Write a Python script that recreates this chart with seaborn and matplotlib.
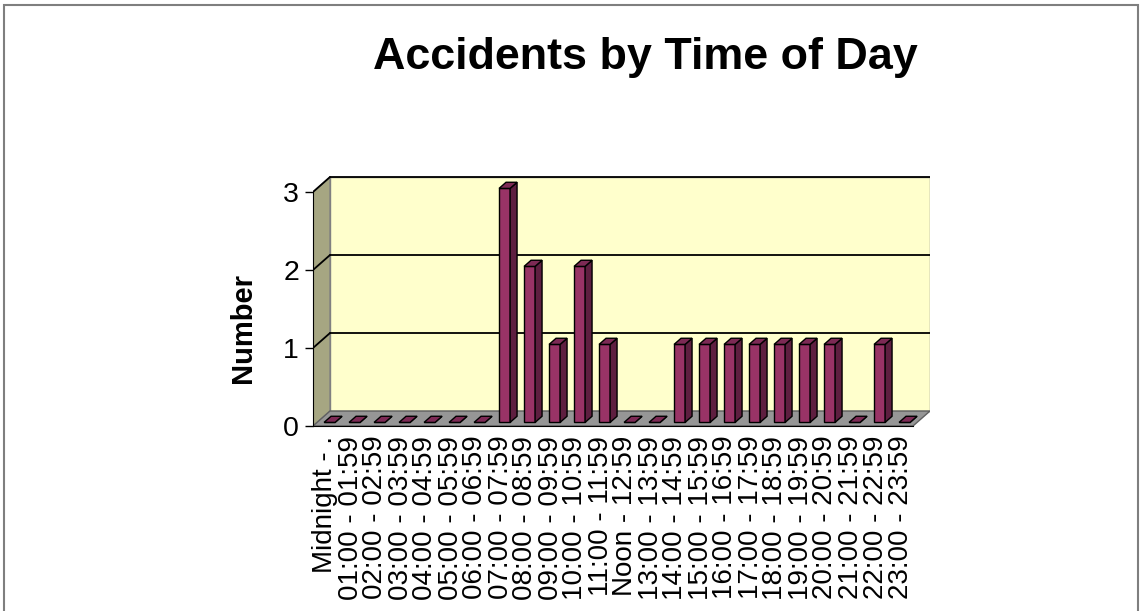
import matplotlib
matplotlib.use("Agg")
import matplotlib.pyplot as plt
from matplotlib.patches import Polygon, Rectangle
import seaborn as sns

hours = ["Midnight - .", "01:00 - 01:59", "02:00 - 02:59", "03:00 - 03:59",
         "04:00 - 04:59", "05:00 - 05:59", "06:00 - 06:59", "07:00 - 07:59",
         "08:00 - 08:59", "09:00 - 09:59", "10:00 - 10:59", "11:00 - 11:59",
         "Noon - 12:59", "13:00 - 13:59", "14:00 - 14:59", "15:00 - 15:59",
         "16:00 - 16:59", "17:00 - 17:59", "18:00 - 18:59", "19:00 - 19:59",
         "20:00 - 20:59", "21:00 - 21:59", "22:00 - 22:59", "23:00 - 23:59"]
counts = [0, 0, 0, 0, 0, 0, 0, 3, 2, 1, 2, 1, 0, 0, 1, 1, 1, 1, 1, 1, 1, 0, 1, 0]
yticks = [0, 1, 2, 3]

sns.set_style("white")
plt.rcParams["font.family"] = ["Liberation Sans", "DejaVu Sans"]
plt.rcParams["text.color"] = "black"
plt.rcParams["xtick.color"] = "black"
plt.rcParams["ytick.color"] = "black"
plt.rcParams["xtick.labelcolor"] = "black"
plt.rcParams["ytick.labelcolor"] = "black"

n = len(hours)
ymax = yticks[-1]
dx, dy = 0.68, 0.192      # depth of the 3d box, data units
bd = 0.24                 # where the bars sit in depth
bw = 0.41                 # bar depth

fig = plt.figure(figsize=(11.4, 6.11), dpi=100)
fig.patches.append(Rectangle((4 / 1140, -0.01), 1134 / 1140, 1 - 5 / 611 + 0.01,
                             transform=fig.transFigure, fill=False,
                             edgecolor="#7f7f7f", linewidth=1.5))
ax = fig.add_axes([313 / 1140, 1 - 426 / 611, (930 - 313) / 1140, (426 - 176.4) / 611])
ax.set_facecolor("none")

sns.barplot(x=hours, y=counts, color="#993366", width=0.44, saturation=1,
            edgecolor="black", linewidth=1, ax=ax, zorder=5)

# walls and floor
ax.add_patch(Polygon([(-0.5 + dx, dy), (n - 0.5 + dx, dy), (n - 0.5 + dx, ymax + dy),
                      (-0.5 + dx, ymax + dy)], closed=True, facecolor="#FFFFCC",
                     edgecolor="#808080", linewidth=1, zorder=1))
ax.add_patch(Polygon([(-0.5, 0), (-0.5 + dx, dy), (-0.5 + dx, ymax + dy), (-0.5, ymax)],
                     closed=True, facecolor="#A6A682", edgecolor="#808080",
                     linewidth=1, zorder=1))
ax.add_patch(Polygon([(-0.5, 0), (n - 0.5, 0), (n - 0.5 + dx, dy), (-0.5 + dx, dy)],
                     closed=True, facecolor="#969696", edgecolor="#606060",
                     linewidth=1, zorder=2))
for t in yticks[1:]:
    ax.plot([-0.5 + dx, n - 0.5 + dx], [t + dy, t + dy], color="black", lw=1.3, zorder=2)
    ax.plot([-0.5, -0.5 + dx], [t, t + dy], color="black", lw=1.3, zorder=2)

# 3d faces for the bars
for p in ax.patches[:n]:
    x0 = p.get_x() + bd * dx
    y0 = p.get_y() + bd * dy
    w, h = p.get_width(), p.get_height()
    p.set_x(x0)
    p.set_y(y0)
    ox, oy = bw * dx, bw * dy
    ax.add_patch(Polygon([(x0 + w, y0), (x0 + w + ox, y0 + oy), (x0 + w + ox, y0 + h + oy),
                          (x0 + w, y0 + h)], closed=True, facecolor="#5E1F40",
                         edgecolor="black", linewidth=1, zorder=5))
    ax.add_patch(Polygon([(x0, y0 + h), (x0 + w, y0 + h), (x0 + w + ox, y0 + h + oy),
                          (x0 + ox, y0 + h + oy)], closed=True, facecolor="#7D2A55",
                         edgecolor="black", linewidth=1, zorder=5))

ax.set_xlim(-0.5, n - 0.5 + dx)
ax.set_ylim(0, ymax + dy + 0.008)
ax.set_yticks(yticks)
ax.set_yticklabels([str(t) for t in yticks], fontsize=20.5)
ax.set_xticks(range(n))
ax.set_xticklabels(hours, rotation=90, fontsize=20, va="top")
ax.set_xticks([i - 0.5 for i in range(n + 1)], minor=True)
ax.tick_params(axis="x", which="major", length=0, pad=7)
ax.tick_params(axis="x", which="minor", length=7, width=1, color="black", direction="out")
ax.tick_params(axis="y", length=6, width=1, color="black", direction="out", pad=4, left=True)
for s in ["top", "right"]:
    ax.spines[s].set_visible(False)
ax.spines["left"].set_bounds(0, ymax)
ax.spines["bottom"].set_bounds(-0.5, n - 0.5)
ax.spines["left"].set_color("black")
ax.spines["bottom"].set_color("black")
ax.spines["left"].set_zorder(6)
ax.spines["bottom"].set_zorder(6)
ax.grid(False)
ax.set_xlabel("")
ax.set_ylabel("")

fig.text(645 / 1140, 1 - 57 / 611, "Accidents by Time of Day", fontsize=32.3,
         fontweight="bold", ha="center", va="center", color="black")
fig.text(243 / 1140, 1 - 328 / 611, "Number", fontsize=21, fontweight="bold",
         rotation=90, ha="center", va="center", color="black")

fig.savefig("out.png", dpi=100)
